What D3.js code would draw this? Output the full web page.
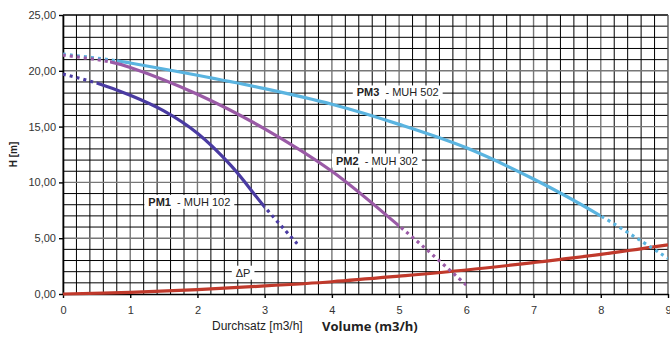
<!DOCTYPE html>
<html>
<head>
<meta charset="utf-8">
<script src="https://cdn.jsdelivr.net/npm/d3@7"></script>
<style>
  body { margin: 0; background: #fff; }
  svg { display: block; font-family: "Liberation Sans", Arial, sans-serif; }
</style>
</head>
<body>
<svg id="chart"></svg>
<script>
// Kennlinien, gelesen aus dem Bild (x = m3/h, H = m)
var pm1X = [0, 0.5, 1, 1.5, 2, 2.5, 3, 3.5]
var pm1H = [19.7, 18.9, 17.8, 16.4, 14.4, 11.5, 7.8, 4.4]
var pm1Solid = [0.5, 3]

var pm2X = [0, 0.7, 1, 2, 3, 4, 5, 5.5, 6]
var pm2H = [21.4, 20.8, 20.3, 17.9, 14.8, 11.0, 6.1, 3.5, 0.8]
var pm2Solid = [0.7, 5]

var pm3X = [0, 0.8, 1, 2, 3, 4, 5, 6, 7, 8, 9]
var pm3H = [21.5, 20.9, 20.7, 19.6, 18.4, 17.0, 15.2, 13.1, 10.3, 7.0, 3.2]
var pm3Solid = [0.8, 8]

var dpX = [0, 1, 2, 3, 4, 5, 6, 7, 8, 9]
var dpH = [0, 0.15, 0.4, 0.72, 1.1, 1.6, 2.15, 2.82, 3.55, 4.4]

var xTicks = [0, 1, 2, 3, 4, 5, 6, 7, 8, 9]
var yTicks = [0, 5, 10, 15, 20, 25]

var seriesNames = ['PM1', 'PM2', 'PM3']
var seriesModels = ['MUH 102', 'MUH 302', 'MUH 502']

// rand
var pad = { l: 63, r: 2, t: 15, b: 46, width: 670, height: 340 }

var svg = d3.select('#chart')
    .attr('width', pad.width)
    .attr('height', pad.height)

var x = d3.scaleLinear()
    .domain([0, 9])
    .range([pad.l, pad.width - pad.r])

var y = d3.scaleLinear()
    .domain([0, 25])
    .range([pad.height - pad.b, pad.t])

// feines Raster: 0.2 in x, 1 in y
var isInt = d => Math.abs(d - Math.round(d)) < 1e-6
var grid = svg.append('g')
grid.selectAll('line.vx')
    .data(d3.range(0, 45).map(i => i / 5))
    .join('line')
    .attr('class', 'vx')
    .attr('x1', d => x(d)).attr('x2', d => x(d))
    .attr('y1', y(0)).attr('y2', y(25))
    .attr('stroke', d => isInt(d) ? '#777' : '#000')
    .attr('stroke-width', d => isInt(d) ? 1.4 : 1)

grid.selectAll('line.hy')
    .data(d3.range(1, 26))
    .join('line')
    .attr('class', 'hy')
    .attr('x1', x(0)).attr('x2', x(9))
    .attr('y1', d => y(d)).attr('y2', d => y(d))
    .attr('stroke', d => d % 5 == 0 && d < 25 ? '#777' : '#000')
    .attr('stroke-width', d => d % 5 == 0 ? 1.4 : 1)

// rechter Rand
svg.append('line')
    .attr('x1', x(9)).attr('x2', x(9))
    .attr('y1', y(0)).attr('y2', y(25))
    .attr('stroke', '#555').attr('stroke-width', 1.4)

// Achsen
var xa = d3.axisBottom(x).tickValues(xTicks).tickSize(4).tickSizeOuter(0).tickPadding(8)
var ya = d3.axisLeft(y).tickValues(yTicks).tickSize(4).tickSizeOuter(0)
    .tickFormat(d => d.toFixed(2).replace('.', ','))

var gx = svg.append('g').attr('transform', 'translate(0,' + y(0) + ')').call(xa)
var gy = svg.append('g').attr('transform', 'translate(' + x(0) + ',0)').call(ya)

;[gx, gy].forEach(g => {
    g.selectAll('text').attr('font-size', 11).attr('fill', '#333')
        .attr('font-family', '"Liberation Sans", Arial, sans-serif')
    g.select('.domain').attr('stroke', '#000').attr('stroke-width', 1.6)
    g.selectAll('.tick line').attr('stroke', '#000').attr('stroke-width', 1.4)
})

// Kurven: ganze Kurve, per clipPath in gestrichelt / durchgezogen geteilt
var line = d3.line()
    .x(d => x(d[0]))
    .y(d => y(d[1]))
    .curve(d3.curveCatmullRom.alpha(0.5))

var defs = svg.append('defs')
var clipN = 0

function clipRange(a, b) {
    var id = 'clip' + (clipN++)
    defs.append('clipPath').attr('id', id)
        .append('rect')
        .attr('x', x(a)).attr('y', 0)
        .attr('width', x(b) - x(a)).attr('height', pad.height)
    return 'url(#' + id + ')'
}

function drawCurve(xs, hs, solid, color) {
    var pts = xs.map((v, i) => [v, hs[i]])
    var d = line(pts)
    var parts = [
        { a: xs[0], b: solid[0], dash: '3,4' },
        { a: solid[0], b: solid[1], dash: null },
        { a: solid[1], b: xs[xs.length - 1], dash: '3,4' },
    ]
    parts.forEach(s => {
        if (s.b <= s.a) return
        svg.append('path')
            .attr('d', d)
            .attr('clip-path', clipRange(s.a, s.b))
            .attr('fill', 'none')
            .attr('stroke', color)
            .attr('stroke-width', 3.2)
            .attr('stroke-dasharray', s.dash)
    })
}

drawCurve(dpX, dpH, [0, 9], '#c0392b')
drawCurve(pm3X, pm3H, pm3Solid, '#5ab4e0')
drawCurve(pm2X, pm2H, pm2Solid, '#9a5aa6')
drawCurve(pm1X, pm1H, pm1Solid, '#4a3ba2')

// Beschriftungen mit weissem Hintergrund
function label(px, py, bold, rest) {
    var g = svg.append('g')
    var t = g.append('text')
        .attr('x', x(px)).attr('y', y(py))
        .attr('font-size', 11).attr('fill', '#222')
    if (bold) t.append('tspan').attr('font-weight', 'bold').text(bold)
    t.append('tspan').text(bold ? '\u00a0 - ' + rest : rest)
    var bb = t.node().getBBox()
    g.insert('rect', 'text')
        .attr('x', bb.x - 4).attr('y', bb.y - 1)
        .attr('width', bb.width + 8).attr('height', bb.height + 2)
        .attr('fill', '#fff')
}

label(4.37, 17.7, seriesNames[2], seriesModels[2])
label(4.06, 11.6, seriesNames[1], seriesModels[1])
label(1.27, 7.9, seriesNames[0], seriesModels[0])
label(2.57, 1.55, null, '\u0394P')

// Achsentitel
svg.append('text')
    .attr('transform', 'translate(17,' + ((y(0) + y(25)) / 2) + ') rotate(-90)')
    .attr('text-anchor', 'middle')
    .attr('font-size', 10).attr('font-weight', 'bold').attr('fill', '#222')
    .text('H [m]')

svg.append('text')
    .attr('x', 212).attr('y', 330)
    .attr('font-size', 12).attr('fill', '#222')
    .text('Durchsatz [m3/h]')

svg.append('text')
    .attr('x', 322).attr('y', 331)
    .attr('font-size', 13).attr('font-weight', 'bold').attr('fill', '#222')
    .attr('font-family', '"Open Sans", sans-serif')
    .text('Volume (m3/h)')
</script>
</body>
</html>
